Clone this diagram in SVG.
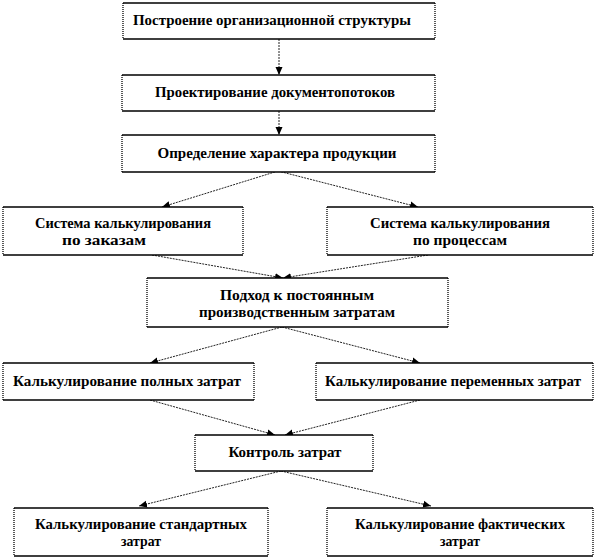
<svg xmlns="http://www.w3.org/2000/svg" width="594" height="558" viewBox="0 0 594 558">
<style>
.bg{fill:#fff;stroke:none}
.h{stroke:#000;stroke-width:1.3;fill:none}
.v{stroke:#000;stroke-width:1.3;stroke-dasharray:1 1;fill:none}
.c{stroke:#222;stroke-width:1;stroke-dasharray:2 1;fill:none;marker-end:url(#ah)}
text{font-family:"Liberation Serif","Times New Roman",serif;font-weight:bold;font-size:15px;fill:#000;text-anchor:middle}
</style>
<defs>
<marker id="ah" markerUnits="userSpaceOnUse" markerWidth="9" markerHeight="8" refX="8" refY="4" orient="auto">
<path d="M0,0.5 L8,4 L0,7.5 Z" fill="#000"/>
</marker>
</defs>
<rect width="594" height="558" fill="#fff"/>
<g id="connectors">
<line class="c" x1="279" y1="39" x2="279" y2="75"/>
<line class="c" x1="279" y1="111" x2="279" y2="135"/>
<line class="c" x1="278" y1="171" x2="162" y2="207"/>
<line class="c" x1="278" y1="171" x2="418" y2="207"/>
<line class="c" x1="152" y1="255" x2="283" y2="278"/>
<line class="c" x1="428" y1="255" x2="283" y2="278"/>
<line class="c" x1="282" y1="327" x2="150" y2="363"/>
<line class="c" x1="282" y1="327" x2="420" y2="363"/>
<line class="c" x1="150" y1="400" x2="275" y2="435"/>
<line class="c" x1="420" y1="400" x2="285" y2="435"/>
<line class="c" x1="281" y1="471" x2="139" y2="506"/>
<line class="c" x1="281" y1="471" x2="431" y2="506"/>
</g>
<g id="n1">
<rect class="bg" x="123" y="3" width="312" height="36"/>
<path class="h" d="M123,3H435M123,39H435"/><path class="v" d="M123,3V39M435,3V39"/>
<text x="272" y="25" textLength="278" lengthAdjust="spacingAndGlyphs">Построение организационной структуры</text>
</g>
<g id="n2">
<rect class="bg" x="122" y="75" width="313" height="36"/>
<path class="h" d="M122,75H435M122,111H435"/><path class="v" d="M122,75V111M435,75V111"/>
<text x="275" y="97" textLength="240" lengthAdjust="spacingAndGlyphs">Проектирование документопотоков</text>
</g>
<g id="n3">
<rect class="bg" x="122" y="135" width="313" height="37"/>
<path class="h" d="M122,135H435M122,172H435"/><path class="v" d="M122,135V172M435,135V172"/>
<text x="277" y="158" textLength="239" lengthAdjust="spacingAndGlyphs">Определение характера продукции</text>
</g>
<g id="n4">
<rect class="bg" x="3" y="207" width="240" height="48"/>
<path class="h" d="M3,207H243M3,255H243"/><path class="v" d="M3,207V255M243,207V255"/>
<text x="123" y="228" textLength="176" lengthAdjust="spacingAndGlyphs">Система калькулирования</text>
<text x="104" y="245" textLength="84" lengthAdjust="spacingAndGlyphs">по заказам</text>
</g>
<g id="n5">
<rect class="bg" x="327" y="207" width="266" height="48"/>
<path class="h" d="M327,207H593M327,255H593"/><path class="v" d="M327,207V255M593,207V255"/>
<text x="460" y="228" textLength="180" lengthAdjust="spacingAndGlyphs">Система калькулирования</text>
<text x="460" y="245" textLength="94" lengthAdjust="spacingAndGlyphs">по процессам</text>
</g>
<g id="n6">
<rect class="bg" x="147" y="278" width="301" height="49"/>
<path class="h" d="M147,278H448M147,327H448"/><path class="v" d="M147,278V327M448,278V327"/>
<text x="297" y="300" textLength="154" lengthAdjust="spacingAndGlyphs">Подход к постоянным</text>
<text x="297" y="317" textLength="196" lengthAdjust="spacingAndGlyphs">производственным затратам</text>
</g>
<g id="n7">
<rect class="bg" x="3" y="363" width="251" height="37"/>
<path class="h" d="M3,363H254M3,400H254"/><path class="v" d="M3,363V400M254,363V400"/>
<text x="127" y="386" textLength="228" lengthAdjust="spacingAndGlyphs">Калькулирование полных затрат</text>
</g>
<g id="n8">
<rect class="bg" x="316" y="363" width="277" height="37"/>
<path class="h" d="M316,363H593M316,400H593"/><path class="v" d="M316,363V400M593,363V400"/>
<text x="453" y="386" textLength="256" lengthAdjust="spacingAndGlyphs">Калькулирование переменных затрат</text>
</g>
<g id="n9">
<rect class="bg" x="195" y="435" width="178" height="36"/>
<path class="h" d="M195,435H373M195,471H373"/><path class="v" d="M195,435V471M373,435V471"/>
<text x="285" y="457" textLength="113" lengthAdjust="spacingAndGlyphs">Контроль затрат</text>
</g>
<g id="n10">
<rect class="bg" x="14" y="508" width="254" height="48"/>
<path class="h" d="M14,508H268M14,556H268"/><path class="v" d="M14,508V556M268,508V556"/>
<text x="141" y="529" textLength="212" lengthAdjust="spacingAndGlyphs">Калькулирование стандартных</text>
<text x="141" y="546" textLength="40" lengthAdjust="spacingAndGlyphs">затрат</text>
</g>
<g id="n11">
<rect class="bg" x="327" y="508" width="266" height="48"/>
<path class="h" d="M327,508H593M327,556H593"/><path class="v" d="M327,508V556M593,508V556"/>
<text x="460" y="529" textLength="210" lengthAdjust="spacingAndGlyphs">Калькулирование фактических</text>
<text x="460" y="546" textLength="40" lengthAdjust="spacingAndGlyphs">затрат</text>
</g>
</svg>
